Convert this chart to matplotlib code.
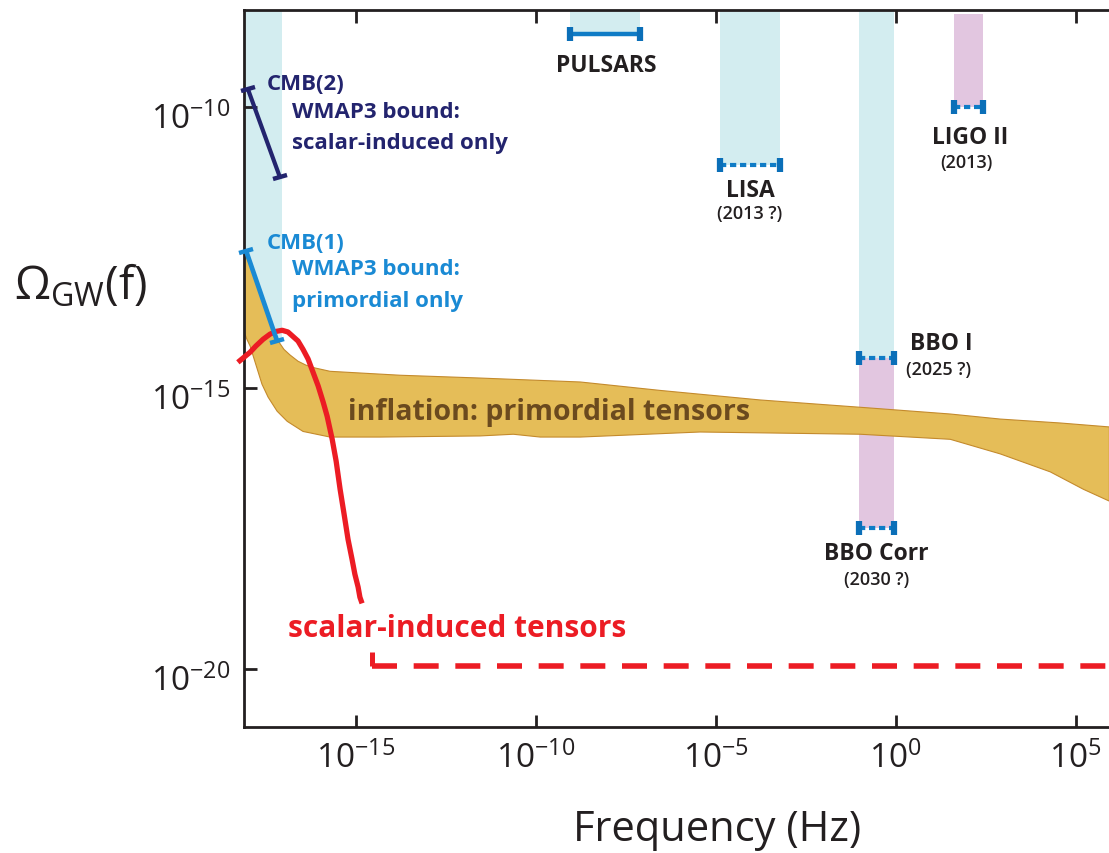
import numpy as np
import matplotlib
matplotlib.use("Agg")
import matplotlib.pyplot as plt
from matplotlib.markers import MarkerStyle
from matplotlib.transforms import Affine2D, ScaledTranslation

FONT = "Open Sans"
plt.rcParams["font.family"] = [FONT, "DejaVu Sans"]
plt.rcParams["mathtext.fontset"] = "custom"
plt.rcParams["mathtext.rm"] = FONT
plt.rcParams["mathtext.it"] = FONT
plt.rcParams["mathtext.bf"] = FONT + ":bold"

# ---------------- data (log10 units) ----------------
x_log_limits = [-18.1, 5.93]
y_log_limits = [-21.03, -8.27]

xtick_exps = [-15, -10, -5, 0, 5]
xtick_labels = [r"$10^{-15}$", r"$10^{-10}$", r"$10^{-5}$", r"$10^{0}$", r"$10^{5}$"]
ytick_exps = [-20, -15, -10]
ytick_labels = [r"$10^{-20}$", r"$10^{-15}$", r"$10^{-10}$"]

# inflation: primordial tensors band
infl_upper_logf = [-18.10, -17.88, -17.63, -17.38, -17.15, -16.99, -16.82, -16.60, -16.38, -16.13,
                   -15.71, -14.88, -13.76, -11.54, -8.76, -6.54, -3.76, -0.98, 1.52, 2.91, 4.58, 5.94]
infl_upper_logO = [-12.58, -12.88, -13.35, -13.81, -14.16, -14.31, -14.41, -14.52, -14.59, -14.64,
                   -14.70, -14.73, -14.77, -14.82, -14.89, -15.04, -15.21, -15.34, -15.46, -15.55, -15.62, -15.69]
infl_lower_logf = [-18.10, -18.02, -17.93, -17.79, -17.60, -17.43, -17.18, -16.90, -16.46, -15.71,
                   -14.32, -11.54, -10.62, -9.87, -8.76, -5.43, -0.98, 1.52, 2.91, 4.30, 5.22, 5.94]
infl_lower_logO = [-13.99, -14.13, -14.25, -14.54, -14.93, -15.16, -15.41, -15.59, -15.77, -15.87,
                   -15.87, -15.85, -15.82, -15.87, -15.87, -15.78, -15.82, -15.91, -16.17, -16.49, -16.80, -17.01]

# scalar-induced tensors (red)
red_logf = [-18.27, -18.10, -17.93, -17.77, -17.57, -17.38, -17.21, -17.04, -16.88, -16.74, -16.60,
            -16.46, -16.32, -16.18, -16.04, -15.90, -15.79, -15.65, -15.54, -15.43, -15.32, -15.21,
            -15.10, -15.02, -14.93, -14.88, -14.82]
red_logO = [-14.54, -14.45, -14.36, -14.25, -14.13, -14.04, -13.99, -13.97, -14.00, -14.08, -14.16,
            -14.31, -14.48, -14.72, -14.96, -15.25, -15.50, -15.91, -16.30, -16.80, -17.24, -17.69,
            -18.04, -18.31, -18.54, -18.72, -18.83]
red_floor_logf = [-14.54, 5.93]
red_floor_logO = -19.95
red_step_logO = [-19.70, -19.95]

# CMB bounds
cmb2_logf = [-17.99, -17.10]
cmb2_logO = [-9.68, -11.25]
cmb1_logf = [-18.04, -17.18]
cmb1_logO = [-12.56, -14.16]
cmb_band_logf = [-18.10, -17.04]
cmb_band_bottom = -14.10

# detectors
det_names = ["PULSARS", "LISA", "LIGO II", "BBO I", "BBO Corr"]
det_logf_lo = [-9.05, -4.89, 1.62, -1.01, -1.01]
det_logf_hi = [-7.10, -3.20, 2.44, -0.04, -0.04]
det_level = [-8.70, -11.02, -10.00, -14.47, -17.49]
det_band_top = [y_log_limits[1], y_log_limits[1], -8.35, y_log_limits[1], -14.47]
det_band_kind = ["blue", "blue", "pink", "blue", "pink"]
det_dotted = [False, True, True, True, True]
det_years = ["", "(2013 ?)", "(2013)", "(2025 ?)", "(2030 ?)"]

# ---------------- figure ----------------
W, H = 1109, 854
fig = plt.figure(figsize=(W / 100, H / 100), dpi=100)
ax = fig.add_axes([244 / W, 1 - 728 / H, (W - 244) / W, (728 - 11) / H])
ax.set_xscale("log")
ax.set_yscale("log")
ax.set_xlim(10 ** x_log_limits[0], 10 ** x_log_limits[1])
ax.set_ylim(10 ** y_log_limits[0], 10 ** y_log_limits[1])

P = lambda a: 10 ** np.asarray(a, dtype=float)

LIGHTBLUE = "#d3edf0"
PINK = "#e2c6e0"
GOLD = "#e5bd58"
GOLD_EDGE = "#c48a2c"
RED = "#ec1c24"
NAVY = "#23246e"
CMBBLUE = "#1a8ad4"
BARBLUE = "#0f7cc6"
DARK = "#231f20"
BROWN = "#6b4a1e"

# bands
ax.fill_between(P(cmb_band_logf), 10 ** cmb_band_bottom, 10 ** y_log_limits[1], color=LIGHTBLUE, lw=0, zorder=1)
for lo, hi, top, lev, kind in zip(det_logf_lo, det_logf_hi, det_band_top, det_level, det_band_kind):
    ax.fill_between(P([lo, hi]), 10 ** lev, 10 ** top, color=LIGHTBLUE if kind == "blue" else PINK,
                    lw=0, zorder=1)

# inflation band
bx = np.concatenate([P(infl_upper_logf), P(infl_lower_logf)[::-1]])
by = np.concatenate([P(infl_upper_logO), P(infl_lower_logO)[::-1]])
ax.fill(bx, by, facecolor=GOLD, edgecolor=GOLD_EDGE, lw=0.8, zorder=2)

# red curve
ax.plot(P(red_logf), P(red_logO), color=RED, lw=3.8, zorder=4, clip_on=False, solid_capstyle="butt")
ax.plot(P([red_floor_logf[0]] * 2), P(red_step_logO), color=RED, lw=3.6, zorder=4, solid_capstyle="butt")
ax.plot(P(red_floor_logf), P([red_floor_logO] * 2), color=RED, lw=4.0, zorder=4,
        linestyle=(0, (4.5, 3.0)), dash_capstyle="butt")

# detector bars
for lo, hi, lev, dotted in zip(det_logf_lo, det_logf_hi, det_level, det_dotted):
    ax.plot(P([lo, hi]), P([lev, lev]), color=BARBLUE, lw=3.2 if not dotted else 3.0,
            linestyle=(0, (1.5, 0.9)) if dotted else "-", dash_capstyle="butt", zorder=5)
    ax.plot(P([lo, hi]), P([lev, lev]), linestyle="none", marker="|", markersize=9.5,
            markeredgewidth=4.5, color="#0b6fb8", zorder=6)

# CMB bound segments with perpendicular caps
fig.canvas.draw()
for lf, lo, col, lw in [(cmb2_logf, cmb2_logO, NAVY, 3.0), (cmb1_logf, cmb1_logO, CMBBLUE, 3.4)]:
    pts = ax.transData.transform(np.column_stack([P(lf), P(lo)]))
    ang = np.degrees(np.arctan2(pts[1, 1] - pts[0, 1], pts[1, 0] - pts[0, 0]))
    ax.plot(P(lf), P(lo), color=col, lw=lw, zorder=5, clip_on=False, solid_capstyle="butt")
    ms = MarkerStyle("|", transform=Affine2D().rotate_deg(ang))
    ax.plot(P(lf), P(lo), linestyle="none", marker=ms, markersize=10, markeredgewidth=3.2,
            color=col, zorder=6, clip_on=False)

# ---------------- text ----------------
def T(lf, lo, s, **kw):
    ax.text(10 ** lf, 10 ** lo, s, zorder=8, **kw)

CMB_FS = 16
T(-17.46, -9.68, "CMB(2)", color=NAVY, fontsize=CMB_FS, fontweight="bold", ha="left", va="baseline")
T(-16.77, -10.18, "WMAP3 bound:", color=NAVY, fontsize=CMB_FS, fontweight="bold", ha="left", va="baseline")
T(-16.77, -10.73, "scalar-induced only", color=NAVY, fontsize=CMB_FS, fontweight="bold", ha="left", va="baseline")
T(-17.46, -12.50, "CMB(1)", color=CMBBLUE, fontsize=CMB_FS, fontweight="bold", ha="left", va="baseline")
T(-16.77, -12.97, "WMAP3 bound:", color=CMBBLUE, fontsize=CMB_FS, fontweight="bold", ha="left", va="baseline")
T(-16.77, -13.54, "primordial only", color=CMBBLUE, fontsize=CMB_FS, fontweight="bold", ha="left", va="baseline")

DET_FS = 16.5
YR_FS = 13
T(-8.04, -9.35, "PULSARS", color=DARK, fontsize=DET_FS, fontweight="bold", ha="center", va="baseline")
T(-4.02, -11.58, "LISA", color=DARK, fontsize=DET_FS, fontweight="bold", ha="center", va="baseline")
T(-4.05, -11.97, "(2013 ?)", color=DARK, fontsize=YR_FS, fontweight="semibold", ha="center", va="baseline")
T(2.07, -10.63, "LIGO II", color=DARK, fontsize=DET_FS, fontweight="bold", ha="center", va="baseline")
T(1.96, -11.07, "(2013)", color=DARK, fontsize=YR_FS, fontweight="semibold", ha="center", va="baseline")
T(0.40, -14.31, "BBO I", color=DARK, fontsize=DET_FS, fontweight="bold", ha="left", va="baseline")
T(0.29, -14.75, "(2025 ?)", color=DARK, fontsize=YR_FS, fontweight="semibold", ha="left", va="baseline")
T(-0.54, -18.04, "BBO Corr", color=DARK, fontsize=DET_FS, fontweight="bold", ha="center", va="baseline")
T(-0.52, -18.49, "(2030 ?)", color=DARK, fontsize=YR_FS, fontweight="semibold", ha="center", va="baseline")

T(-15.21, -15.55, "inflation: primordial tensors", color=BROWN, fontsize=20.5, fontweight="bold",
  ha="left", va="baseline")
T(-16.89, -19.41, "scalar-induced tensors", color=RED, fontsize=21.5, fontweight="bold",
  ha="left", va="baseline")

# ---------------- axes styling ----------------
ax.set_xticks(P(xtick_exps))
ax.set_xticklabels(xtick_labels)
ax.set_yticks(P(ytick_exps))
ax.set_yticklabels(ytick_labels)
ax.minorticks_off()
ax.tick_params(axis="both", which="major", direction="in", length=9, width=2, color=DARK,
               labelsize=24, labelcolor=DARK)
ax.tick_params(axis="x", top=True, pad=10)
ax.tick_params(axis="y", right=False, pad=10)
for lab in ax.get_yticklabels():
    lab.set_transform(lab.get_transform() + ScaledTranslation(0, -0.08, fig.dpi_scale_trans))
for s in ["left", "bottom", "top"]:
    ax.spines[s].set_linewidth(2)
    ax.spines[s].set_color(DARK)
ax.spines["right"].set_visible(False)

fig.text(717 / W, 1 - 830 / H, "Frequency (Hz)", fontsize=30, color=DARK, ha="center", va="center")
fig.text(14 / W, 1 - 287 / H, r"$\Omega_{\mathrm{GW}}(f)$", fontsize=33, color=DARK, ha="left", va="center")

fig.savefig("out.png", dpi=100)
